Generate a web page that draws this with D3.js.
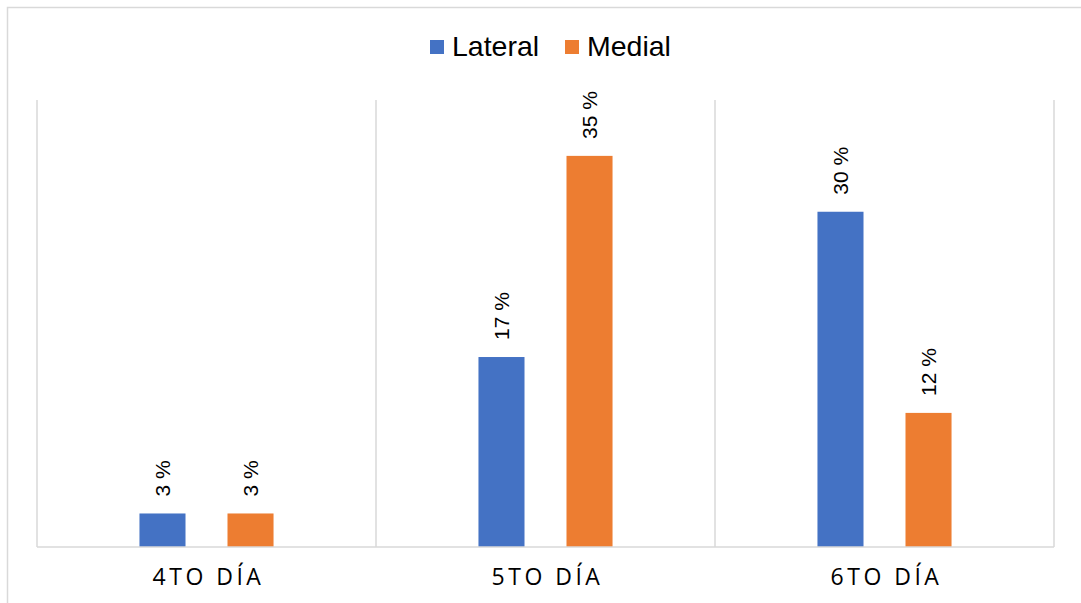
<!DOCTYPE html>
<html>
<head>
<meta charset="utf-8">
<script src="https://cdn.jsdelivr.net/npm/d3@7"></script>
<style>
  html, body { margin: 0; padding: 0; background: #fff; }
  svg { display: block; font-family: Arial, "Liberation Sans", sans-serif; }
</style>
</head>
<body>
<svg id="chart" width="1081" height="603"></svg>
<script>
// Days of observation and the share per side
const categories = ["4TO DÍA", "5TO DÍA", "6TO DÍA"];
const seriesNames = ["Lateral", "Medial"];
const lateralValues = [3, 17, 30];
const medialValues = [3, 35, 12];
const seriesColors = ["#4472C4", "#ED7D31"];

const svg = d3.select("#chart");
const W = 1081, H = 603;

// Outer frame (extends past the right and bottom edges)
svg.append("rect")
  .attr("x", 7.5).attr("y", 7.5)
  .attr("width", W + 20).attr("height", H + 20)
  .attr("fill", "#fff")
  .attr("stroke", "#d9d9d9").attr("stroke-width", 1.5);

const plot = { left: 37, right: 1054, top: 100, bottom: 547 };

const x = d3.scaleBand().domain(categories).range([plot.left, plot.right]).padding(0);
const xInner = d3.scaleBand().domain(seriesNames)
  .range([0, x.bandwidth()])
  .paddingInner(0.477).paddingOuter(1.164);
const y = d3.scaleLinear().domain([0, 40]).range([plot.bottom, plot.top]);

// Vertical separators between categories
const seps = categories.map(c => x(c)).concat([plot.right]);
svg.append("g").selectAll("line").data(seps).join("line")
  .attr("x1", d => d).attr("x2", d => d)
  .attr("y1", plot.top).attr("y2", plot.bottom)
  .attr("stroke", "#d9d9d9").attr("stroke-width", 1.5);

const rows = categories.map((c, i) => ({
  category: c,
  values: [
    { series: seriesNames[0], value: lateralValues[i], color: seriesColors[0] },
    { series: seriesNames[1], value: medialValues[i], color: seriesColors[1] }
  ]
}));

const groups = svg.append("g").selectAll("g").data(rows).join("g")
  .attr("transform", d => `translate(${x(d.category)},0)`);

groups.selectAll("rect").data(d => d.values).join("rect")
  .attr("x", d => xInner(d.series))
  .attr("width", xInner.bandwidth())
  .attr("y", d => y(d.value))
  .attr("height", d => y(0) - y(d.value))
  .attr("fill", d => d.color);

// Rotated value labels above each bar
groups.selectAll("text").data(d => d.values).join("text")
  .attr("transform", d => `translate(${xInner(d.series) + xInner.bandwidth() / 2 + 7.5},${y(d.value) - 17}) rotate(-90)`)
  .attr("text-anchor", "start")
  .attr("font-size", 21)
  .attr("fill", "#000")
  .text(d => d.value + " %");

// Baseline
svg.append("line")
  .attr("x1", plot.left).attr("x2", plot.right)
  .attr("y1", plot.bottom).attr("y2", plot.bottom)
  .attr("stroke", "#d9d9d9").attr("stroke-width", 1.5);

// Category axis labels
const xAxis = svg.append("g")
  .attr("transform", `translate(0,${plot.bottom})`)
  .call(d3.axisBottom(x).tickSize(0).tickPadding(0));
xAxis.select(".domain").remove();
xAxis.selectAll("text")
  .attr("y", 38)
  .attr("dy", 0)
  .attr("dx", 2)
  .attr("font-size", 23)
  .attr("font-family", "'Open Sans', Arial, sans-serif")
  .attr("letter-spacing", "3.5px")
  .attr("fill", "#000");

// Legend
const legendItems = [
  { name: seriesNames[0], color: seriesColors[0], x: 430 },
  { name: seriesNames[1], color: seriesColors[1], x: 565 }
];
const legend = svg.append("g").selectAll("g").data(legendItems).join("g")
  .attr("transform", d => `translate(${d.x},0)`);
legend.append("rect")
  .attr("x", 0).attr("y", 40).attr("width", 14).attr("height", 14)
  .attr("fill", d => d.color);
legend.append("text")
  .attr("x", 22).attr("y", 56)
  .attr("font-size", 28.5)
  .attr("fill", "#000")
  .text(d => d.name);
</script>
</body>
</html>
